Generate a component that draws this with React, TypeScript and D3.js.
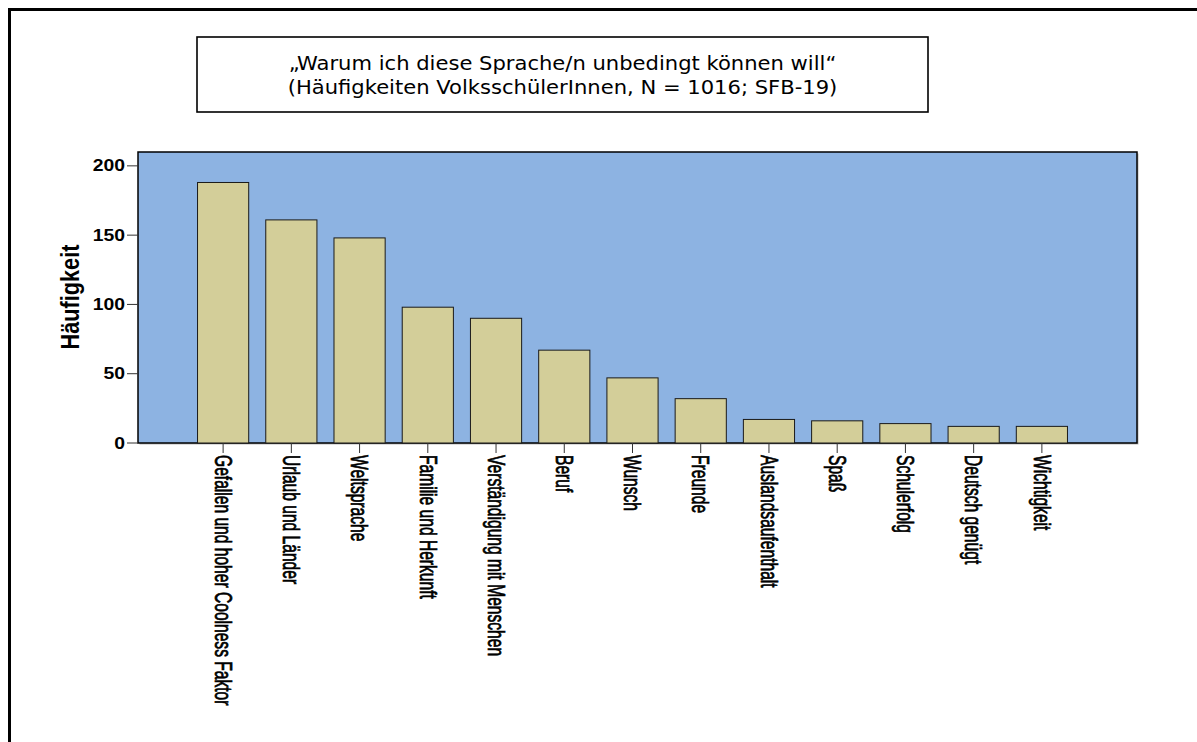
import React from "react";
import * as d3 from "d3";

// Reasons and their frequencies
const categories = [
  "Gefallen und hoher Coolness Faktor",
  "Urlaub und Länder",
  "Weltsprache",
  "Familie und Herkunft",
  "Verständigung mit Menschen",
  "Beruf",
  "Wunsch",
  "Freunde",
  "Auslandsaufenthalt",
  "Spaß",
  "Schulerfolg",
  "Deutsch genügt",
  "Wichtigkeit",
];
const counts = [188, 161, 148, 98, 90, 67, 47, 32, 17, 16, 14, 12, 12];
const yTicks = [0, 50, 100, 150, 200];
const titleLines = [
  "„Warum ich diese Sprache/n unbedingt können will“",
  "(Häufigkeiten VolksschülerInnen, N = 1016; SFB-19)",
];
const yLabel = "Häufigkeit";

const W = 1197;
const H = 742;
const plot = { left: 138, right: 1137, top: 152, bottom: 443 };

export default function App() {
  const y = d3.scaleLinear().domain([0, 210]).range([plot.bottom, plot.top]);
  const x = d3
    .scaleBand<string>()
    .domain(categories)
    .range([189, 1076])
    .paddingInner(0.25)
    .paddingOuter(0.125);

  const bw = x.bandwidth();
  const sans = "'Liberation Sans', Arial, sans-serif";

  return (
    <svg
      width={W}
      height={H}
      viewBox={`0 0 ${W} ${H}`}
      style={{ position: "absolute", left: 0, top: 0, background: "#fff" }}
    >
      {/* outer frame */}
      <rect x={9.5} y={9.5} width={1200} height={800} fill="none" stroke="#000" strokeWidth={3} />

      {/* title box */}
      <rect x={197} y={37} width={731} height={75} fill="#fff" stroke="#000" strokeWidth={1.6} />
      {titleLines.map((t, i) => (
        <text
          key={i}
          transform={`translate(562.5, ${70 + i * 24}) scale(1.11, 1)`}
          textAnchor="middle"
          fontFamily="'DejaVu Sans', Verdana, sans-serif"
          fontSize={19}
          fill="#000"
        >
          {t}
        </text>
      ))}

      {/* plot area */}
      <rect
        x={plot.left + 1.5}
        y={plot.top + 1.5}
        width={plot.right - plot.left}
        height={plot.bottom - plot.top}
        fill="#b8b8b8"
      />
      <rect
        x={plot.left}
        y={plot.top}
        width={plot.right - plot.left}
        height={plot.bottom - plot.top}
        fill="#8db3e2"
        stroke="#000"
        strokeWidth={1.5}
      />

      {/* bars */}
      {categories.map((c, i) => (
        <rect
          key={c}
          x={x(c)!}
          y={y(counts[i])}
          width={bw}
          height={y(0) - y(counts[i])}
          fill="#d3ce99"
          stroke="#1a1a1a"
          strokeWidth={1}
        />
      ))}

      {/* y axis */}
      {yTicks.map((t) => (
        <g key={t}>
          <line x1={127} x2={plot.left} y1={y(t)} y2={y(t)} stroke="#333" strokeWidth={1} />
          <text
            transform={`translate(125, ${y(t)}) scale(1.14, 1)`}
            textAnchor="end"
            dominantBaseline="central"
            fontFamily={sans}
            fontWeight="bold"
            fontSize={17}
            fill="#000"
          >
            {t}
          </text>
        </g>
      ))}
      <text
        transform={`translate(70, 297) scale(1.19, 1) rotate(-90)`}
        textAnchor="middle"
        dominantBaseline="central"
        fontFamily={sans}
        fontWeight="bold"
        fontSize={21.7}
        fill="#000"
      >
        {yLabel}
      </text>

      {/* x axis ticks and labels */}
      {categories.map((c) => {
        const cx = x(c)! + bw / 2;
        return (
          <g key={c}>
            <line x1={cx} x2={cx} y1={plot.bottom} y2={453} stroke="#333" strokeWidth={1} />
            <text
              transform={`translate(${cx}, 455) scale(1.5, 1) rotate(90)`}
              textAnchor="start"
              dominantBaseline="central"
              fontFamily={sans}
              fontSize={15.6}
              fill="#000"
              stroke="#000"
              strokeWidth={0.5}
            >
              {c}
            </text>
          </g>
        );
      })}
    </svg>
  );
}
